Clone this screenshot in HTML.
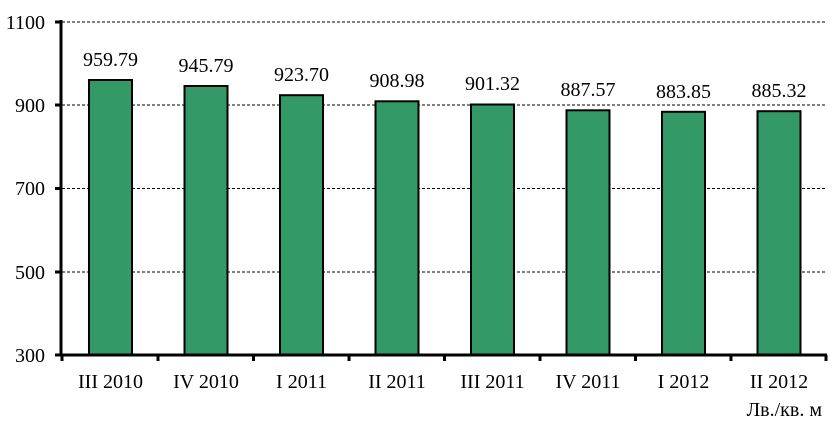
<!DOCTYPE html>
<html><head><meta charset="utf-8"><style>body{margin:0;background:#fff}</style></head><body>
<svg width="836" height="421" xmlns="http://www.w3.org/2000/svg" font-family="Liberation Serif, serif" font-size="20">
<g stroke="#000" stroke-width="1" stroke-dasharray="3,2">
<line x1="62" y1="22" x2="826" y2="22"/>
<line x1="62" y1="105" x2="826" y2="105"/>
<line x1="62" y1="188.5" x2="826" y2="188.5"/>
<line x1="62" y1="272" x2="826" y2="272"/>
</g>
<g fill="#339966" stroke="#000" stroke-width="2">
<rect x="89" y="80" width="43" height="275"/>
<rect x="184.5" y="86" width="43" height="269"/>
<rect x="280" y="95.2" width="43" height="259.8"/>
<rect x="375.5" y="101.3" width="43" height="253.7"/>
<rect x="471" y="104.5" width="43" height="250.5"/>
<rect x="566.5" y="110.3" width="43" height="244.7"/>
<rect x="662" y="111.8" width="43" height="243.2"/>
<rect x="757.5" y="111.2" width="43" height="243.8"/>
</g>
<g stroke="#000" stroke-width="3" fill="none">
<line x1="61" y1="20" x2="61" y2="356"/>
<line x1="60" y1="355" x2="827" y2="355"/>
<line x1="55" y1="22" x2="61" y2="22"/>
<line x1="55" y1="105" x2="61" y2="105"/>
<line x1="55" y1="188.5" x2="61" y2="188.5"/>
<line x1="55" y1="272" x2="61" y2="272"/>
<line x1="55" y1="355" x2="61" y2="355"/>
<line x1="62" y1="355" x2="62" y2="361"/>
<line x1="158" y1="355" x2="158" y2="361"/>
<line x1="253.5" y1="355" x2="253.5" y2="361"/>
<line x1="349" y1="355" x2="349" y2="361"/>
<line x1="444.5" y1="355" x2="444.5" y2="361"/>
<line x1="540" y1="355" x2="540" y2="361"/>
<line x1="635.5" y1="355" x2="635.5" y2="361"/>
<line x1="731" y1="355" x2="731" y2="361"/>
<line x1="826" y1="355" x2="826" y2="361"/>
</g>
<g text-anchor="end">
<text x="45" y="29">1100</text><text x="45" y="112">900</text><text x="45" y="195">700</text><text x="45" y="279">500</text><text x="45" y="362">300</text>
</g>
<g text-anchor="middle">
<text x="110.5" y="66">959.79</text><text x="206" y="72">945.79</text><text x="301.5" y="81">923.70</text><text x="397" y="87">908.98</text><text x="492.5" y="90">901.32</text><text x="588" y="96">887.57</text><text x="683.5" y="98">883.85</text><text x="779" y="97">885.32</text>
<text x="110.5" y="388">III 2010</text><text x="206" y="388">IV 2010</text><text x="301.5" y="388">I 2011</text><text x="397" y="388">II 2011</text><text x="492.5" y="388">III 2011</text><text x="588" y="388">IV 2011</text><text x="683.5" y="388">I 2012</text><text x="779" y="388">II 2012</text>
</g>
<text x="822" y="416" text-anchor="end">Лв./кв. м</text>
</svg>
</body></html>
